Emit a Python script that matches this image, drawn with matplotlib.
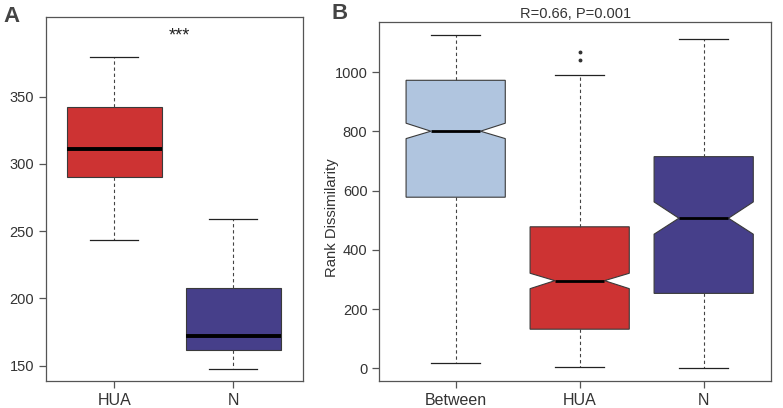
import matplotlib
matplotlib.use("Agg")
import matplotlib.pyplot as plt

plt.rcParams['font.family'] = ['Liberation Sans', 'DejaVu Sans']

# Panel A: box statistics
a_groups = ['HUA', 'N']
a_whislo = [243.5, 147.8]
a_q1 = [290.5, 161.5]
a_med = [310.9, 172.1]
a_q3 = [342.6, 207.8]
a_whishi = [379.7, 259.3]
a_colors = ['#CD3333', '#463F8A']

# Panel B: notched boxes
b_groups = ['Between', 'HUA', 'N']
b_whislo = [17, 3, 2]
b_q1 = [578, 132, 253]
b_med = [801, 296, 507]
b_q3 = [973, 478, 715]
b_whishi = [1127, 990, 1111]
b_cilo = [776, 269, 453]
b_cihi = [828, 321, 562]
b_fliers = [[], [1040, 1070], []]
b_colors = ['#B0C5DF', '#CD3333', '#463F8A']

TXT = '#333333'
EDGE = '#3a3a3a'


def style_boxes(res, colors, med_lw):
    for patch, c in zip(res['boxes'], colors):
        patch.set_facecolor(c)
        patch.set_edgecolor(EDGE)
        patch.set_linewidth(0.8)
    for w in res['whiskers']:
        w.set_linestyle((0, (3, 2.5)))
        w.set_color('#444444')
        w.set_linewidth(0.8)
    for cap in res['caps']:
        cap.set_color('#222222')
        cap.set_linewidth(0.9)
    for m in res['medians']:
        m.set_color('black')
        m.set_linewidth(med_lw)


def style_axes(ax, xfs, yfs):
    for s in ax.spines.values():
        s.set_color('#555555')
        s.set_linewidth(0.9)
    ax.tick_params(axis='y', labelsize=yfs, colors='#555555', labelcolor=TXT,
                   length=5, width=0.9)
    ax.tick_params(axis='x', labelsize=xfs, colors='#555555', labelcolor=TXT,
                   length=5, width=0.9)


fig = plt.figure(figsize=(7.83, 4.08), dpi=100)

# ---- panel A
axA = fig.add_axes([0.0584, 0.0662, 0.3286, 0.8921])
statsA = []
for i in range(len(a_groups)):
    statsA.append({'label': a_groups[i], 'whislo': a_whislo[i], 'q1': a_q1[i],
                   'med': a_med[i], 'q3': a_q3[i], 'whishi': a_whishi[i],
                   'fliers': []})
resA = axA.bxp(statsA, positions=[1, 2], widths=0.8, capwidths=0.4,
               patch_artist=True, showfliers=False)
style_boxes(resA, a_colors, 2.8)
axA.set_xlim(0.424, 2.586)
axA.set_ylim(138.6, 409.3)
axA.set_yticks([150, 200, 250, 300, 350])
style_axes(axA, 11.5, 10.5)
axA.text(1.55, 395, '***', ha='center', va='center', fontsize=13, color='#222222')

# ---- panel B
axB = fig.add_axes([0.4844, 0.0662, 0.5003, 0.8799])
statsB = []
for i in range(len(b_groups)):
    statsB.append({'label': b_groups[i], 'whislo': b_whislo[i], 'q1': b_q1[i],
                   'med': b_med[i], 'q3': b_q3[i], 'whishi': b_whishi[i],
                   'cilo': b_cilo[i], 'cihi': b_cihi[i],
                   'fliers': b_fliers[i]})
resB = axB.bxp(statsB, positions=[1, 2, 3], widths=0.8, capwidths=0.4,
               patch_artist=True, shownotches=True,
               flierprops=dict(marker='o', markersize=1.8, markerfacecolor='#333333',
                               markeredgecolor='#333333', linestyle='none'))
style_boxes(resB, b_colors, 2.0)
axB.set_xlim(0.384, 3.543)
axB.set_ylim(-43, 1170)
axB.set_yticks([0, 200, 400, 600, 800, 1000])
style_axes(axB, 11.5, 10.5)
axB.set_ylabel('Rank Dissimilarity', fontsize=10.7, color=TXT)
axB.yaxis.set_label_coords(-0.103, 0.455)
axB.set_title('R=0.66, P=0.001', fontsize=10.5, color=TXT, pad=3)

fig.text(0.004, 0.985, 'A', fontsize=16, fontweight='bold', color='#444444',
         ha='left', va='top')
fig.text(0.424, 0.993, 'B', fontsize=16, fontweight='bold', color='#444444',
         ha='left', va='top')

fig.savefig('out.png', dpi=100)
